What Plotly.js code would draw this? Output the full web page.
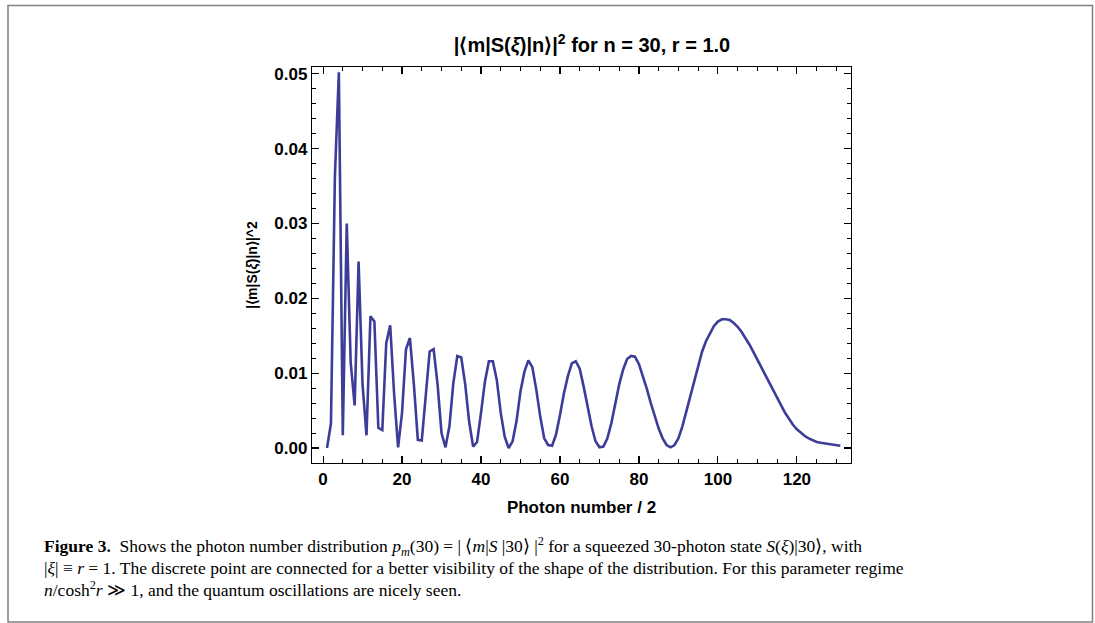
<!DOCTYPE html>
<html>
<head>
<meta charset="utf-8">
<script src="https://cdn.plot.ly/plotly-3.0.1.min.js"></script>
<style>
html,body{margin:0;padding:0;background:#fff;}
#chart{width:1095px;height:623px;}
</style>
</head>
<body>
<div id="chart"></div>
<script>
// Photon number / 2 (index) values
const photonIndex = [];
for (let i = 1; i <= 131; i++) photonIndex.push(i);

// |<m|S(xi)|n>|^2
const probability = [
  0.0000, 0.0033, 0.0363, 0.0502, 0.0017, 0.0300, 0.0114, 0.0057, 0.0249, 0.0085,
  0.0017, 0.0176, 0.0169, 0.0027, 0.0024, 0.0140, 0.0164, 0.0072, 0.0001, 0.0047,
  0.0132, 0.0147, 0.0085, 0.0011, 0.0010, 0.0068, 0.0129, 0.0132, 0.0085, 0.0020,
  0.0001, 0.0029, 0.0087, 0.0123, 0.0121, 0.0085, 0.0035, 0.0002, 0.0008, 0.0047,
  0.0089, 0.0116, 0.0116, 0.0091, 0.0047, 0.0015, 0.0000, 0.0009, 0.0036, 0.0076,
  0.0102, 0.0117, 0.0108, 0.0078, 0.0042, 0.0013, 0.0004, 0.0003, 0.0018, 0.0044,
  0.0073, 0.0096, 0.0113, 0.0116, 0.0106, 0.0082, 0.0056, 0.0029, 0.0009, 0.0001,
  0.0002, 0.0013, 0.0033, 0.0058, 0.0085, 0.0105, 0.0119, 0.0123, 0.0122, 0.0112,
  0.0097, 0.0079, 0.0060, 0.0042, 0.0026, 0.0013, 0.0004, 0.0001, 0.0004, 0.0013,
  0.0029, 0.0049, 0.0070, 0.0091, 0.0111, 0.0129, 0.0143, 0.0154, 0.0163, 0.0169,
  0.0172, 0.0172, 0.0171, 0.0167, 0.0162, 0.0155, 0.0147, 0.0138, 0.0128, 0.0118,
  0.0107, 0.0096, 0.0086, 0.0076, 0.0066, 0.0056, 0.0047, 0.0039, 0.0031, 0.0025,
  0.0020, 0.0016, 0.0013, 0.0010, 0.0008, 0.0007, 0.0006, 0.0005, 0.0004, 0.0004,
  0.0003
];

const xTickVals = [0, 20, 40, 60, 80, 100, 120];
const xTickText = ['0', '20', '40', '60', '80', '100', '120'];
const yTickVals = [0, 0.01, 0.02, 0.03, 0.04, 0.05];
const yTickText = ['0.00', '0.01', '0.02', '0.03', '0.04', '0.05'];

const chartTitle = '|⟨m|S(<i>ξ</i>)|n⟩|<sup>2</sup> for n = 30, r = 1.0';
const xTitle = 'Photon number / 2';
const yTitle = '|⟨m|S(<i>ξ</i>)|n⟩|^2';
const captionLines = [
  '<b>Figure 3.</b>  Shows the photon number distribution <i>p<sub>m</sub></i>(30) = | ⟨<i>m</i>|<i>S</i> |30⟩ |<sup>2</sup> for a squeezed 30-photon state <i>S</i>(<i>ξ</i>)|30⟩, with',
  '|<i>ξ</i>| ≡ <i>r</i> = 1. The discrete point are connected for a better visibility of the shape of the distribution. For this parameter regime',
  '<i>n</i>/cosh<sup>2</sup><i>r</i> ≫ 1, and the quantum oscillations are nicely seen.'
];

// plot-area geometry (pixels)
const L = 312, R = 851, T = 67, B = 463, W = 1095, H = 623;
const pxX = p => (p - L) / (R - L);
const pxY = p => (B - p) / (B - T);

const trace = {
  x: photonIndex, y: probability, type: 'scatter', mode: 'lines',
  line: {color: '#3d3d99', width: 2.6},
  hoverinfo: 'x+y'
};

const axisCommon = {
  showgrid: false, zeroline: false, showline: true, linecolor: '#000', linewidth: 1.2,
  mirror: 'allticks', ticks: 'inside', ticklen: 7, tickwidth: 1.1, tickcolor: '#000',
  tickfont: {family: 'Liberation Sans, Arial, sans-serif', size: 17, color: '#000', weight: 'bold'}
};

const annotations = captionLines.map((t, i) => ({
  xref: 'paper', yref: 'paper', x: pxX(42), y: pxY(546 + i * 21.5),
  xanchor: 'left', yanchor: 'middle', showarrow: false, align: 'left',
  text: t, font: {family: 'Liberation Serif, Times New Roman, serif', size: 17.5, color: '#000'}
}));

const layout = {
  width: W, height: H,
  margin: {l: L, r: W - R, t: T, b: H - B, pad: 0},
  paper_bgcolor: '#fff', plot_bgcolor: '#fff',
  showlegend: false,
  title: {
    text: chartTitle, x: pxX(592), xref: 'paper', xanchor: 'center',
    y: 1 - 45 / H, yref: 'container', yanchor: 'middle',
    font: {family: 'Liberation Sans, Arial, sans-serif', size: 20, color: '#000', weight: 'bold'}
  },
  xaxis: Object.assign({}, axisCommon, {
    range: [-2.8, 133.7], tickvals: xTickVals, ticktext: xTickText,
    minor: {dtick: 5, tick0: 0, ticks: 'inside', ticklen: 4, tickcolor: '#000', tickwidth: 1},
    title: {text: xTitle, standoff: 13,
      font: {family: 'Liberation Sans, Arial, sans-serif', size: 17, color: '#000', weight: 'bold'}}
  }),
  yaxis: Object.assign({}, axisCommon, {
    range: [-0.0020, 0.0509], tickvals: yTickVals, ticktext: yTickText,
    minor: {dtick: 0.002, tick0: 0, ticks: 'inside', ticklen: 4, tickcolor: '#000', tickwidth: 1},
    title: {text: yTitle, standoff: 13,
      font: {family: 'Liberation Sans, Arial, sans-serif', size: 14, color: '#000', weight: 'bold'}}
  }),
  shapes: [{
    type: 'rect', xref: 'paper', yref: 'paper',
    x0: pxX(8), x1: pxX(1092.5), y0: pxY(622), y1: pxY(5.5),
    line: {color: '#808080', width: 1.5}, fillcolor: 'rgba(0,0,0,0)', layer: 'below'
  }],
  annotations: annotations
};

Plotly.newPlot('chart', [trace], layout, {displayModeBar: false, staticPlot: true});
</script>
</body>
</html>
